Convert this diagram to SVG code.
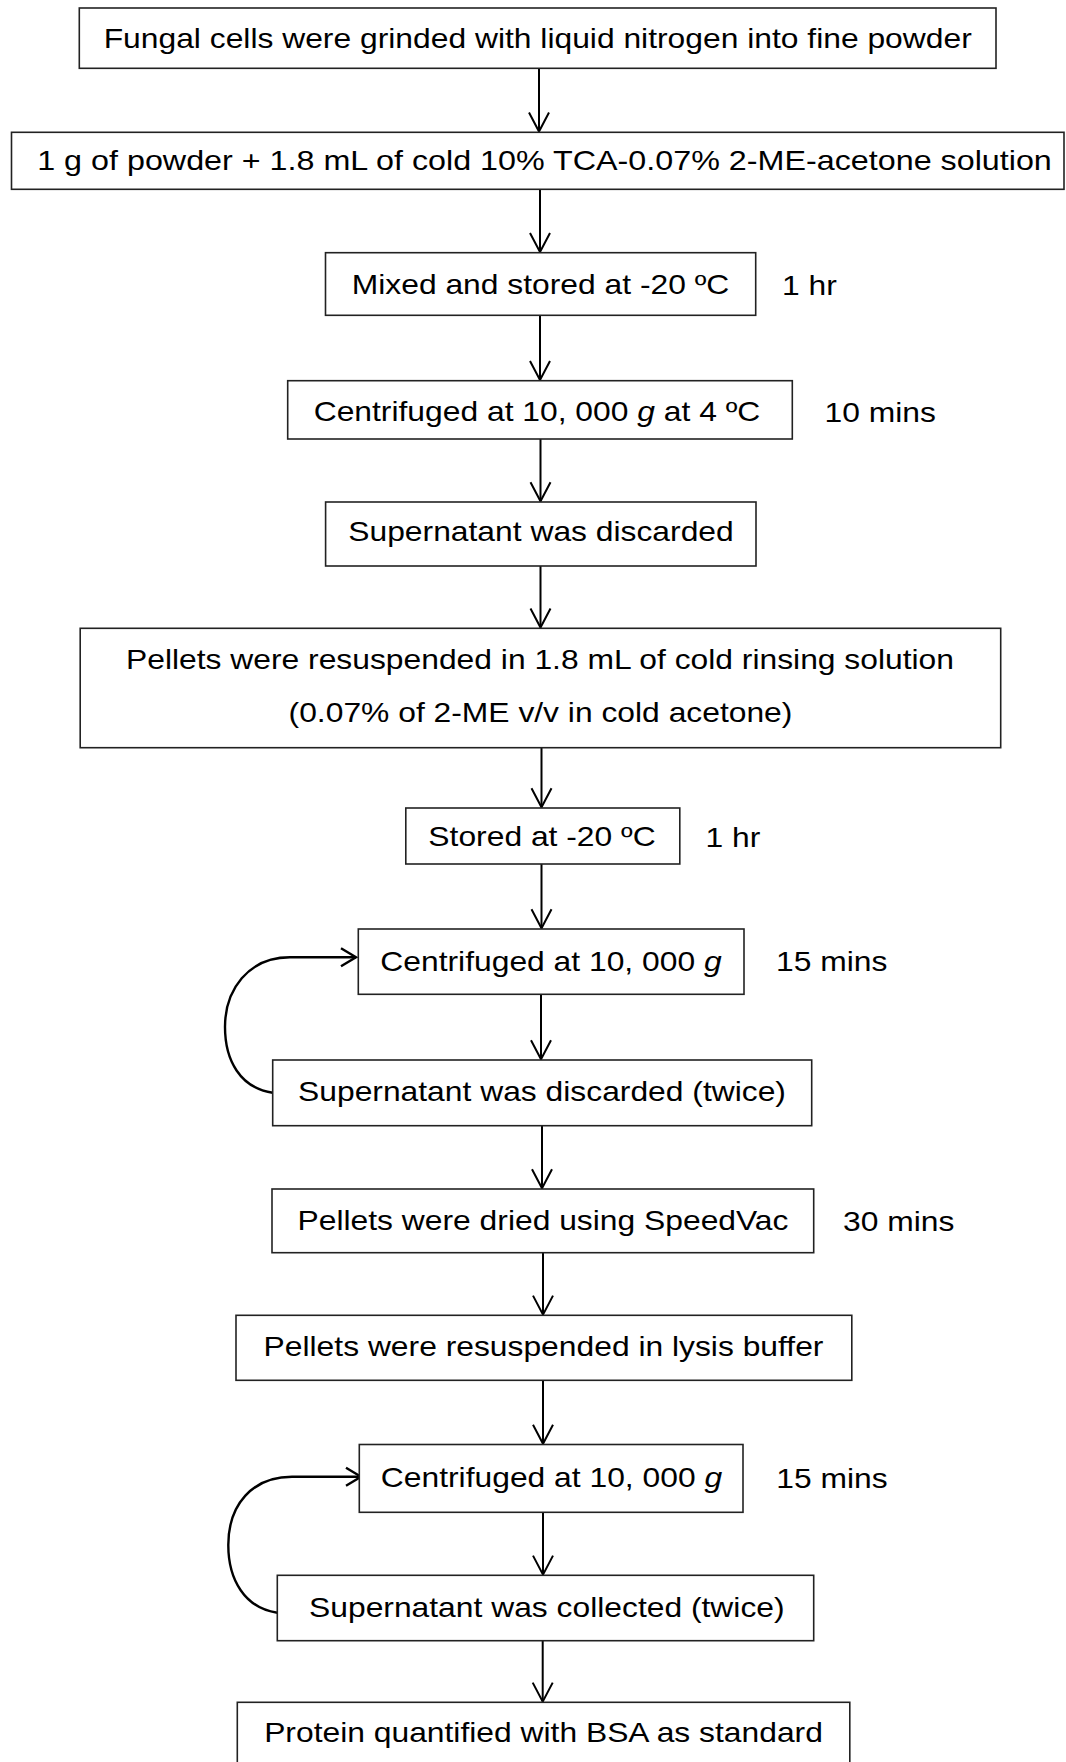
<svg xmlns="http://www.w3.org/2000/svg" width="1066" height="1762" viewBox="0 0 1066 1762">
<style>
.box{fill:#fff;stroke:#222;stroke-width:1.6}
.t{font-family:"Liberation Sans",Arial,sans-serif;font-size:27px;fill:#000}
.m{text-anchor:middle}
.conn{fill:none;stroke:#000;stroke-width:2}
.loop{fill:none;stroke:#000;stroke-width:2.4}
</style>
<defs>
<marker id="ah" markerUnits="userSpaceOnUse" viewBox="-22 -12 24 24" refX="0" refY="0" markerWidth="24" markerHeight="24" orient="auto">
<path d="M-19,-10 L0,0 L-19,10" fill="none" stroke="#000" stroke-width="2"/>
</marker>
<marker id="ahl" markerUnits="userSpaceOnUse" viewBox="-20 -12 24 24" refX="0" refY="0" markerWidth="24" markerHeight="24" orient="auto">
<path d="M-15,-9 L0,0 L-15,9" fill="none" stroke="#000" stroke-width="2.4"/>
</marker>
</defs>
<rect width="1066" height="1762" fill="#fff"/>
<g id="connectors">
<line class="conn" x1="539" y1="68.3" x2="539" y2="131.5" marker-end="url(#ah)"/>
<line class="conn" x1="540" y1="189.3" x2="540" y2="252" marker-end="url(#ah)"/>
<line class="conn" x1="540" y1="315.3" x2="540" y2="380" marker-end="url(#ah)"/>
<line class="conn" x1="540.5" y1="439" x2="540.5" y2="501.3" marker-end="url(#ah)"/>
<line class="conn" x1="540.5" y1="566" x2="540.5" y2="627.5" marker-end="url(#ah)"/>
<line class="conn" x1="541.5" y1="747.7" x2="541.5" y2="807.3" marker-end="url(#ah)"/>
<line class="conn" x1="541.5" y1="864" x2="541.5" y2="928.3" marker-end="url(#ah)"/>
<line class="conn" x1="541" y1="994.3" x2="541" y2="1059.3" marker-end="url(#ah)"/>
<line class="conn" x1="542" y1="1125.7" x2="542" y2="1188.3" marker-end="url(#ah)"/>
<line class="conn" x1="543" y1="1252.7" x2="543" y2="1314.6" marker-end="url(#ah)"/>
<line class="conn" x1="543" y1="1380.3" x2="543" y2="1443.8" marker-end="url(#ah)"/>
<line class="conn" x1="543" y1="1512.3" x2="543" y2="1574.6" marker-end="url(#ah)"/>
<line class="conn" x1="542.7" y1="1640.7" x2="542.7" y2="1701.6" marker-end="url(#ah)"/>
<path class="loop" d="M272.7,1092.7 C240,1088 225,1060 225,1027 C225,990 248,957.3 290,957.3 L356,957.3" marker-end="url(#ahl)"/>
<path class="loop" d="M277.3,1612.7 C245,1608 228.3,1580 228.3,1545 C228.3,1505 252,1476.7 292,1476.7 L361,1476.7" marker-end="url(#ahl)"/>
</g>
<g id="n1"><rect class="box" x="79.3" y="8" width="916.7" height="60.3"/>
<text class="t m" transform="matrix(1.178 0 0 1 537.7 48.3)">Fungal cells were grinded with liquid nitrogen into fine powder</text></g>
<g id="n2"><rect class="box" x="11.5" y="132.3" width="1052.5" height="57"/>
<text class="t m" transform="matrix(1.196 0 0 1 544.5 169.5)">1 g of powder + 1.8 mL of cold 10% TCA-0.07% 2-ME-acetone solution</text></g>
<g id="n3"><rect class="box" x="325.5" y="252.7" width="430.2" height="62.6"/>
<text class="t m" transform="matrix(1.178 0 0 1 540.5 294)">Mixed and stored at -20 ºC</text></g>
<g id="n3t"><text class="t" transform="matrix(1.178 0 0 1 782 295)">1 hr</text></g>
<g id="n4"><rect class="box" x="287.7" y="380.7" width="504.6" height="58.3"/>
<text class="t m" transform="matrix(1.178 0 0 1 537 421)">Centrifuged at 10, 000 <tspan font-style="italic">g</tspan> at 4 ºC</text></g>
<g id="n4t"><text class="t" transform="matrix(1.178 0 0 1 824.6 422)">10 mins</text></g>
<g id="n5"><rect class="box" x="325.6" y="502" width="430.4" height="64"/>
<text class="t m" transform="matrix(1.178 0 0 1 541 541)">Supernatant was discarded</text></g>
<g id="n6"><rect class="box" x="80.2" y="628.3" width="920.5" height="119.4"/>
<text class="t m" transform="matrix(1.178 0 0 1 540 668.5)">Pellets were resuspended in 1.8 mL of cold rinsing solution</text>
<text class="t m" transform="matrix(1.178 0 0 1 540.5 722)">(0.07% of 2-ME v/v in cold acetone)</text></g>
<g id="n7"><rect class="box" x="405.8" y="808" width="274" height="56"/>
<text class="t m" transform="matrix(1.178 0 0 1 542 846)">Stored at -20 ºC</text></g>
<g id="n7t"><text class="t" transform="matrix(1.178 0 0 1 705.6 847)">1 hr</text></g>
<g id="n8"><rect class="box" x="358.3" y="929" width="385.7" height="65.3"/>
<text class="t m" transform="matrix(1.178 0 0 1 551 970.5)">Centrifuged at 10, 000 <tspan font-style="italic">g</tspan></text></g>
<g id="n8t"><text class="t" transform="matrix(1.178 0 0 1 776 971)">15 mins</text></g>
<g id="n9"><rect class="box" x="272.7" y="1060" width="539" height="65.7"/>
<text class="t m" transform="matrix(1.178 0 0 1 542 1101)">Supernatant was discarded (twice)</text></g>
<g id="n10"><rect class="box" x="272" y="1189" width="541.7" height="63.7"/>
<text class="t m" transform="matrix(1.178 0 0 1 543 1229.5)">Pellets were dried using SpeedVac</text></g>
<g id="n10t"><text class="t" transform="matrix(1.178 0 0 1 843 1231)">30 mins</text></g>
<g id="n11"><rect class="box" x="236" y="1315.3" width="615.8" height="65"/>
<text class="t m" transform="matrix(1.178 0 0 1 543.5 1356)">Pellets were resuspended in lysis buffer</text></g>
<g id="n12"><rect class="box" x="359.3" y="1444.5" width="383.7" height="67.8"/>
<text class="t m" transform="matrix(1.178 0 0 1 551.5 1486.5)">Centrifuged at 10, 000 <tspan font-style="italic">g</tspan></text></g>
<g id="n12t"><text class="t" transform="matrix(1.178 0 0 1 776.3 1488)">15 mins</text></g>
<g id="n13"><rect class="box" x="277.3" y="1575.3" width="536.4" height="65.4"/>
<text class="t m" transform="matrix(1.178 0 0 1 546.8 1616.5)">Supernatant was collected (twice)</text></g>
<g id="n14"><rect class="box" x="237.3" y="1702.3" width="612.5" height="70"/>
<text class="t m" transform="matrix(1.178 0 0 1 543.5 1741.7)">Protein quantified with BSA as standard</text></g>
</svg>
